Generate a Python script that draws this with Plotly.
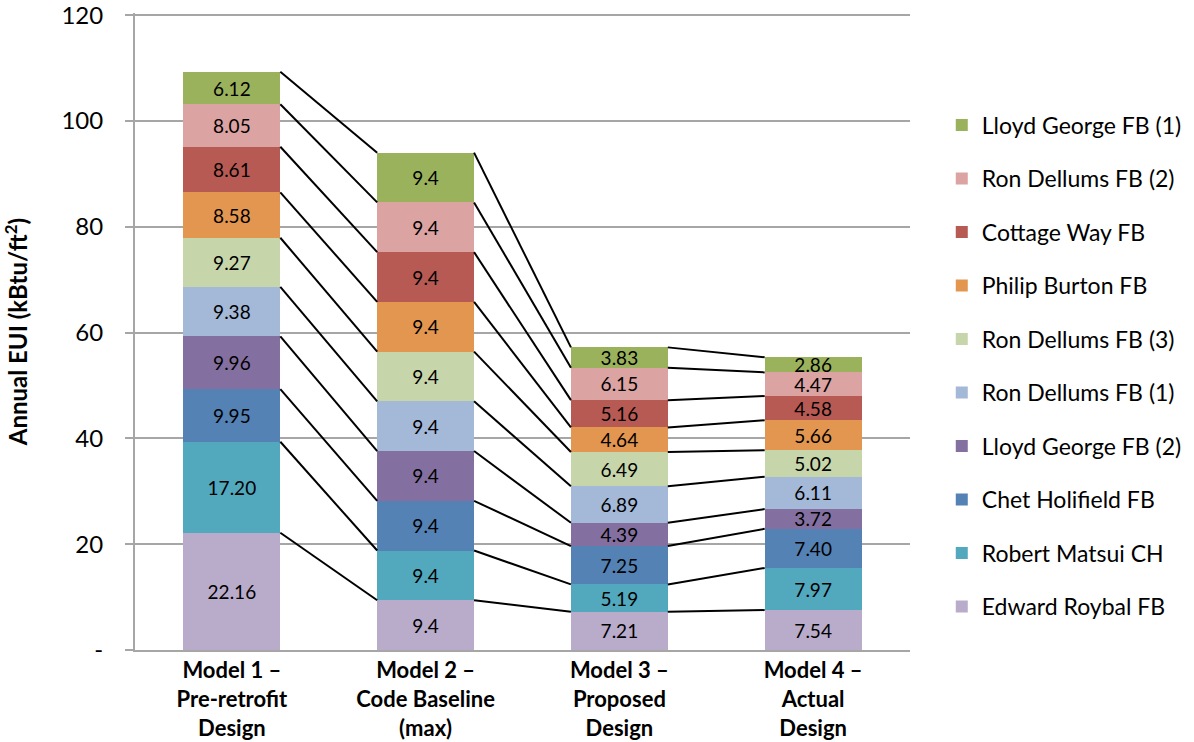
import numpy as np
import plotly.graph_objects as go

categories = ["Model 1 –<br>Pre-retrofit<br>Design", "Model 2 –<br>Code Baseline<br>(max)",
              "Model 3 –<br>Proposed<br>Design", "Model 4 –<br>Actual<br>Design"]

# bottom to top
series_names = ["Edward Roybal FB", "Robert Matsui CH", "Chet Holifield FB", "Lloyd George FB (2)",
                "Ron Dellums FB (1)", "Ron Dellums FB (3)", "Philip Burton FB", "Cottage Way FB",
                "Ron Dellums FB (2)", "Lloyd George FB (1)"]
edward_roybal = [22.16, 9.4, 7.21, 7.54]
robert_matsui = [17.20, 9.4, 5.19, 7.97]
chet_holifield = [9.95, 9.4, 7.25, 7.40]
lloyd_george_2 = [9.96, 9.4, 4.39, 3.72]
ron_dellums_1 = [9.38, 9.4, 6.89, 6.11]
ron_dellums_3 = [9.27, 9.4, 6.49, 5.02]
philip_burton = [8.58, 9.4, 4.64, 5.66]
cottage_way = [8.61, 9.4, 5.16, 4.58]
ron_dellums_2 = [8.05, 9.4, 6.15, 4.47]
lloyd_george_1 = [6.12, 9.4, 3.83, 2.86]
label_decimals = [2, 1, 2, 2]

y_tickvals = [0, 20, 40, 60, 80, 100, 120]
y_ticktext = ["-", "20", "40", "60", "80", "100", "120"]

series_values = [edward_roybal, robert_matsui, chet_holifield, lloyd_george_2, ron_dellums_1,
                 ron_dellums_3, philip_burton, cottage_way, ron_dellums_2, lloyd_george_1]
colors = ["#B9ABCA", "#52A9BD", "#5482B5", "#8470A0", "#A4B8D8",
          "#C7D6AA", "#E3964F", "#B85A54", "#DBA3A2", "#9BB25D"]

FONT = "Lato"
BAR_W = 0.5
xpos = np.arange(len(categories))

fig = go.Figure()

# series lines
cum = np.cumsum(np.array(series_values), axis=0)
lx, ly = [], []
for row in cum:
    for i in range(len(categories) - 1):
        lx += [xpos[i] + BAR_W / 2, xpos[i + 1] - BAR_W / 2, None]
        ly += [row[i], row[i + 1], None]
fig.add_trace(go.Scatter(x=lx, y=ly, mode="lines", line=dict(color="black", width=2),
                         showlegend=False, hoverinfo="skip"))

n = len(series_names)
for k, (name, vals, col) in enumerate(zip(series_names, series_values, colors)):
    texts = [f"{v:.{d}f}" for v, d in zip(vals, label_decimals)]
    fig.add_trace(go.Bar(
        x=xpos, y=vals, name=name, width=BAR_W, marker=dict(color=col, line=dict(width=0)),
        text=texts, textposition="inside", insidetextanchor="middle", textangle=0,
        constraintext="none", textfont=dict(family=FONT, size=19, color="black"),
        legendgroup=name, legendrank=n - k,
    ))

fig.update_layout(
    barmode="stack",
    width=1194, height=742,
    margin=dict(l=135, r=284, t=13, b=92, autoexpand=False),
    plot_bgcolor="white", paper_bgcolor="white",
    font=dict(family=FONT, size=18, color="black"),
    legend=dict(x=1.041, y=0.858, xanchor="left", yanchor="top",
                traceorder="grouped", tracegroupgap=20.6, itemsizing="constant",
                font=dict(family=FONT, size=23, color="black")),
    showlegend=True,
)
fig.update_xaxes(
    range=[-0.5, 3.5], tickvals=xpos, ticktext=categories, automargin=False,
    showline=True, linecolor="#A6A6A6", linewidth=2, showgrid=False,
    tickfont=dict(family=FONT, size=22, color="black", weight="bold"),
    ticks="", zeroline=False,
)
fig.update_yaxes(
    range=[0, 120.4], tickvals=y_tickvals, ticktext=y_ticktext, automargin=False,
    showline=True, linecolor="#A6A6A6", linewidth=2,
    showgrid=True, gridcolor="#A6A6A6", gridwidth=2,
    ticks="outside", ticklen=8, tickcolor="#A6A6A6", tickwidth=2,
    ticklabelstandoff=17, ticklabeloverflow="allow", zeroline=False,
    tickfont=dict(family=FONT, size=24, color="black"),
    title=dict(text="<b>Annual EUI (kBtu/ft<sup>2</sup>)</b>", standoff=42,
               font=dict(family=FONT, size=24, color="black")),
)

fig.write_html("out.html", config={"displayModeBar": False},
               post_script="document.body.style.margin='0';")
